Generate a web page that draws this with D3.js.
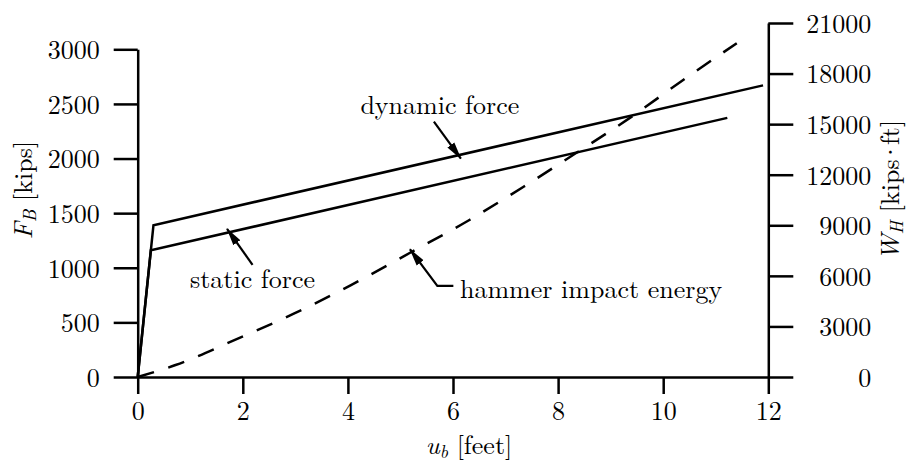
<!DOCTYPE html>
<html>
<head>
<meta charset="utf-8">
<script src="https://cdn.jsdelivr.net/npm/d3@7"></script>
<style>
  html, body { margin: 0; padding: 0; background: #fff; }
  svg { display: block; }
</style>
</head>
<body>
<svg id="chart" width="906" height="462"></svg>
<script>
// ---------- data ----------
const xTicks = [0, 2, 4, 6, 8, 10, 12];
const leftTicks = [0, 500, 1000, 1500, 2000, 2500, 3000];
const rightTicks = [0, 3000, 6000, 9000, 12000, 15000, 18000, 21000];

// dynamic force [kips] vs displacement u_b [feet]
const dynU = [0, 0.3, 11.9];
const dynF = [0, 1390, 2670];
// static force
const staU = [0, 0.25, 11.22];
const staF = [0, 1160, 2372];
// hammer impact energy [kips·ft]
const hamU = [0, 0.72, 1.85, 2.96, 4.05, 5.2, 6.32, 7.35, 8.35, 9.38, 10.38, 11.4];
const hamW = [0, 710, 2200, 3740, 5440, 7400, 9330, 11300, 13300, 15400, 17620, 19800];

// annotations: label text and position of the arrow tip along u
const annLabels = ["dynamic force", "static force", "hammer impact energy"];
const annU = [6.15, 1.70, 5.2];

// ---------- drawing ----------
const FONT = '"Latin Modern Roman", "CMU Serif", "Liberation Serif", serif';
const svg = d3.select("#chart").style("font-family", FONT);
const FS = 26;
const x = d3.scaleLinear().domain([0, 12]).range([137.7, 768.3]);
const yL = d3.scaleLinear().domain([0, 3000]).range([377, 49.3]);
const yR = d3.scaleLinear().domain([0, 21000]).range([377, 23]);

function styleAxis(g) {
  g.attr("font-family", null).attr("font-size", null);
  g.selectAll("path.domain").attr("stroke", "#000").attr("stroke-width", 2.5);
  g.selectAll(".tick line").attr("stroke", "#000").attr("stroke-width", 2.5);
  g.selectAll(".tick text").style("font-family", FONT).attr("font-size", FS).attr("fill", "#000");
}

// left axis
const gL = svg.append("g").attr("transform", `translate(${x(0)},0)`)
  .call(d3.axisLeft(yL).tickValues(leftTicks).tickSize(24).tickSizeOuter(0).tickPadding(14).tickFormat(d3.format("d")));
styleAxis(gL);
gL.selectAll(".tick text").attr("dy", "0.36em");

// right axis
const gR = svg.append("g").attr("transform", `translate(${x(12)},0)`)
  .call(d3.axisRight(yR).tickValues(rightTicks).tickSize(25).tickSizeOuter(0).tickFormat(d3.format("d")));
styleAxis(gR);
gR.selectAll(".tick text").attr("text-anchor", "end").attr("x", 103).attr("dy", "0.36em");

// bottom axis
const gB = svg.append("g").attr("transform", `translate(0,${yL(0)})`)
  .call(d3.axisBottom(x).tickValues(xTicks).tickSize(17).tickSizeOuter(0).tickPadding(7.5).tickFormat(d3.format("d")));
styleAxis(gB);

// lines
const lineL = d3.line().x(d => x(d[0])).y(d => yL(d[1]));
const lineR = d3.line().x(d => x(d[0])).y(d => yR(d[1])).curve(d3.curveMonotoneX);

svg.append("path").datum(dynU.map((u, i) => [u, dynF[i]]))
  .attr("d", lineL).attr("fill", "none").attr("stroke", "#000").attr("stroke-width", 2.5).attr("stroke-linejoin", "miter");
svg.append("path").datum(staU.map((u, i) => [u, staF[i]]))
  .attr("d", lineL).attr("fill", "none").attr("stroke", "#000").attr("stroke-width", 2.5).attr("stroke-linejoin", "miter");
svg.append("path").datum(hamU.map((u, i) => [u, hamW[i]]))
  .attr("d", lineR).attr("fill", "none").attr("stroke", "#000").attr("stroke-width", 2.5)
  .attr("stroke-dasharray", "17,15");

// arrow marker
svg.append("defs").append("marker")
  .attr("id", "arr").attr("markerUnits", "userSpaceOnUse")
  .attr("viewBox", "0 -5 18 10").attr("refX", 17).attr("refY", 0)
  .attr("markerWidth", 18).attr("markerHeight", 10).attr("orient", "auto")
  .append("path").attr("d", "M0,-4.3L18,0L0,4.3Z").attr("fill", "#000");

function interp(us, vs, u) {
  for (let i = 1; i < us.length; i++) {
    if (u <= us[i]) { const t = (u - us[i-1]) / (us[i] - us[i-1]); return vs[i-1] + t * (vs[i] - vs[i-1]); }
  }
  return vs[vs.length - 1];
}

function label(xp, yp, anchor, txt) {
  return svg.append("text").attr("x", xp).attr("y", yp).attr("text-anchor", anchor)
    .style("font-family", FONT).attr("font-size", FS).attr("fill", "#000").text(txt);
}

// dynamic force annotation
{
  const tx = x(annU[0]), ty = yL(interp(dynU, dynF, annU[0])) + 4;
  const sx = tx - 27, sy = ty - 37;
  svg.append("line").attr("x1", sx).attr("y1", sy).attr("x2", tx).attr("y2", ty)
    .attr("stroke", "#000").attr("stroke-width", 2.2).attr("marker-end", "url(#arr)");
  label(sx + 6, sy - 8, "middle", annLabels[0]);
}
// static force annotation
{
  const tx = x(annU[1]), ty = yL(interp(staU, staF, annU[1])) - 4;
  const sx = tx + 25.5, sy = ty + 36;
  svg.append("line").attr("x1", sx).attr("y1", sy).attr("x2", tx).attr("y2", ty)
    .attr("stroke", "#000").attr("stroke-width", 2.2).attr("marker-end", "url(#arr)");
  label(sx, sy + 23, "middle", annLabels[1]);
}
// hammer impact energy annotation
{
  const tx = x(annU[2]) - 1, ty = yR(interp(hamU, hamW, annU[2])) - 3;
  const kx = tx + 27.4, ky = ty + 36.7;
  svg.append("path").attr("d", `M${kx + 16},${ky}L${kx},${ky}L${tx},${ty}`)
    .attr("fill", "none").attr("stroke", "#000").attr("stroke-width", 2.2).attr("marker-end", "url(#arr)");
  label(kx + 22.6, ky + 11.6, "start", annLabels[2]);
}

// axis titles
function title(transform, main, sub, rest) {
  const t = svg.append("text").attr("transform", transform).attr("text-anchor", "middle")
    .style("font-family", FONT).attr("font-size", FS).attr("fill", "#000");
  t.append("tspan").attr("font-style", "italic").text(main);
  t.append("tspan").attr("font-style", "italic").attr("font-size", 18).attr("dy", 4).text(sub);
  t.append("tspan").attr("dy", -4).text(rest[0]);
  if (rest.length > 1) {
    t.append("tspan").attr("dx", -3).text(rest[1]);
    t.append("tspan").attr("dx", -3).text(rest[2]);
  }
  return t;
}
title("translate(469,454)", "u", "b", [" [feet]"]);
title("translate(32,190) rotate(-90)", "F", "B", [" [kips]"]);
title("translate(899,190) rotate(-90)", "W", "H", [" [kips", "·", "ft]"]);
</script>
</body>
</html>
